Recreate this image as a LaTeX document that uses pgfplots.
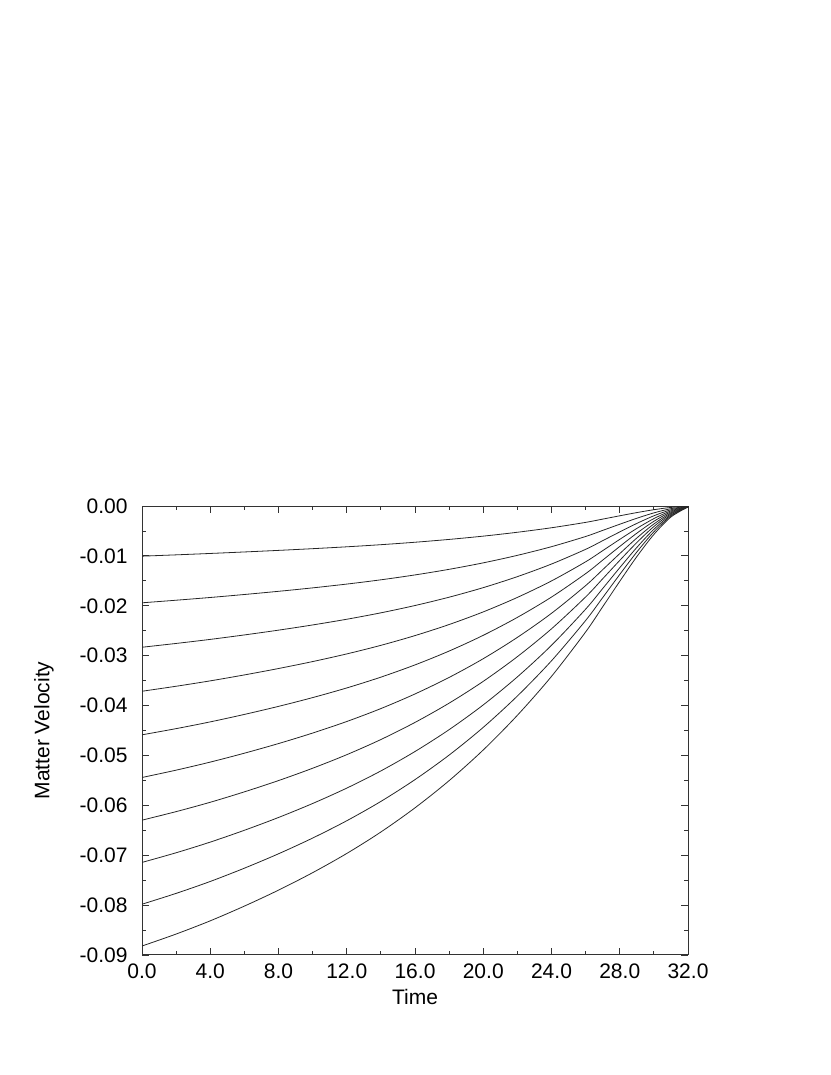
\documentclass[border=0pt]{standalone}
\usepackage{pgfplots}
\usepackage{pgfplotstable}
\pgfplotsset{compat=1.18}
\usepackage{fontspec}
\setmainfont{Liberation Sans}
\pgfplotstableread{
t  c1        c2        c3        c4        c5        c6        c7        c8        c9        c10
0  -0.010055 -0.019404 -0.028312 -0.037132 -0.045864 -0.054419 -0.062975 -0.071442 -0.079821 -0.08820
2  -0.009790 -0.018885 -0.027550 -0.036130 -0.044625 -0.052947 -0.061261 -0.069507 -0.077649 -0.08580
4  -0.009511 -0.018336 -0.026737 -0.035049 -0.043271 -0.051333 -0.059385 -0.067369 -0.075259 -0.08315
6  -0.009211 -0.017738 -0.025843 -0.033858 -0.041777 -0.049548 -0.057297 -0.065000 -0.072598 -0.08020
8  -0.008895 -0.017100 -0.024885 -0.032577 -0.040164 -0.047618 -0.055037 -0.062435 -0.069714 -0.07700
10 -0.008553 -0.016410 -0.023843 -0.031183 -0.038405 -0.045513 -0.052566 -0.059633 -0.066561 -0.07350
12 -0.008178 -0.015650 -0.022699 -0.029649 -0.036470 -0.043197 -0.049848 -0.056550 -0.063092 -0.06965
14 -0.007753 -0.014794 -0.021413 -0.027929 -0.034304 -0.040605 -0.046811 -0.053104 -0.059218 -0.06535
16 -0.007264 -0.013815 -0.019948 -0.025975 -0.031850 -0.037673 -0.043380 -0.049211 -0.054844 -0.06050
18 -0.006697 -0.012691 -0.018278 -0.023756 -0.029074 -0.034362 -0.039517 -0.044828 -0.049926 -0.05505
20 -0.006038 -0.011395 -0.016363 -0.021224 -0.025920 -0.030606 -0.035146 -0.039870 -0.044370 -0.04890
22 -0.005263 -0.009890 -0.014157 -0.018322 -0.022325 -0.026334 -0.030193 -0.034250 -0.038085 -0.04195
24 -0.004359 -0.008153 -0.011631 -0.015017 -0.018252 -0.021507 -0.024616 -0.027923 -0.031022 -0.03415
26 -0.003283 -0.006111 -0.008686 -0.011186 -0.013559 -0.015958 -0.018231 -0.020680 -0.022952 -0.02525
27 -0.002626 -0.004888 -0.006949 -0.008949 -0.010847 -0.012766 -0.014584 -0.016544 -0.018362 -0.02020
28 -0.001963 -0.003654 -0.005194 -0.006689 -0.008109 -0.009543 -0.010902 -0.012367 -0.013726 -0.01510
29 -0.001320 -0.002456 -0.003492 -0.004496 -0.005451 -0.006415 -0.007328 -0.008313 -0.009226 -0.01015
30 -0.000741 -0.001379 -0.001961 -0.002525 -0.003061 -0.003602 -0.004115 -0.004668 -0.005181 -0.00570
31 -0.000286 -0.000532 -0.000757 -0.000975 -0.001181 -0.001390 -0.001588 -0.001802 -0.002000 -0.00220
32 -0.000026 -0.000048 -0.000069 -0.000089 -0.000107 -0.000126 -0.000144 -0.000164 -0.000182 -0.00020
}\curves
\begin{document}
\begin{tikzpicture}
\useasboundingbox (0,0) rectangle (415pt,537.5pt);
\begin{axis}[
  at={(71pt,60pt)}, anchor=south west,
  scale only axis, width=273pt, height=224.5pt,
  xmin=0, xmax=32, ymin=-0.09, ymax=0,
  xtick={0,4,...,32}, minor x tick num=1,
  ytick={-0.09,-0.08,-0.07,-0.06,-0.05,-0.04,-0.03,-0.02,-0.01,0},
  minor y tick num=1,
  scaled y ticks=false, scaled x ticks=false,
  tick align=inside,
  major tick length=3.5pt, minor tick length=2.2pt,
  axis line style={line width=0.5pt, black!80},
  every tick/.style={black!80, line width=0.4pt},
  /pgf/number format/assume math mode=true,
  xticklabel style={/pgf/number format/.cd, fixed, fixed zerofill, precision=1, /tikz/.cd, inner sep=0pt, yshift=-4pt},
  yticklabel style={/pgf/number format/.cd, fixed, fixed zerofill, precision=2, /tikz/.cd, inner sep=0pt, xshift=-7pt},
  tick label style={font=\fontsize{10.5pt}{12pt}\selectfont},
  label style={font=\fontsize{10.5pt}{12pt}\selectfont},
  xlabel={Time},
  ylabel={Matter Velocity},
  x label style={at={(axis description cs:0.5,-0.0935)}, anchor=center},
  y label style={at={(axis description cs:-0.1795,0.5)}, anchor=center},
]
\addplot[black!85, line width=0.4pt, smooth, no markers] table[x=t, y=c1] {\curves};
\addplot[black!85, line width=0.4pt, smooth, no markers] table[x=t, y=c2] {\curves};
\addplot[black!85, line width=0.4pt, smooth, no markers] table[x=t, y=c3] {\curves};
\addplot[black!85, line width=0.4pt, smooth, no markers] table[x=t, y=c4] {\curves};
\addplot[black!85, line width=0.4pt, smooth, no markers] table[x=t, y=c5] {\curves};
\addplot[black!85, line width=0.4pt, smooth, no markers] table[x=t, y=c6] {\curves};
\addplot[black!85, line width=0.4pt, smooth, no markers] table[x=t, y=c7] {\curves};
\addplot[black!85, line width=0.4pt, smooth, no markers] table[x=t, y=c8] {\curves};
\addplot[black!85, line width=0.4pt, smooth, no markers] table[x=t, y=c9] {\curves};
\addplot[black!85, line width=0.4pt, smooth, no markers] table[x=t, y=c10] {\curves};
\end{axis}
\end{tikzpicture}
\end{document}
